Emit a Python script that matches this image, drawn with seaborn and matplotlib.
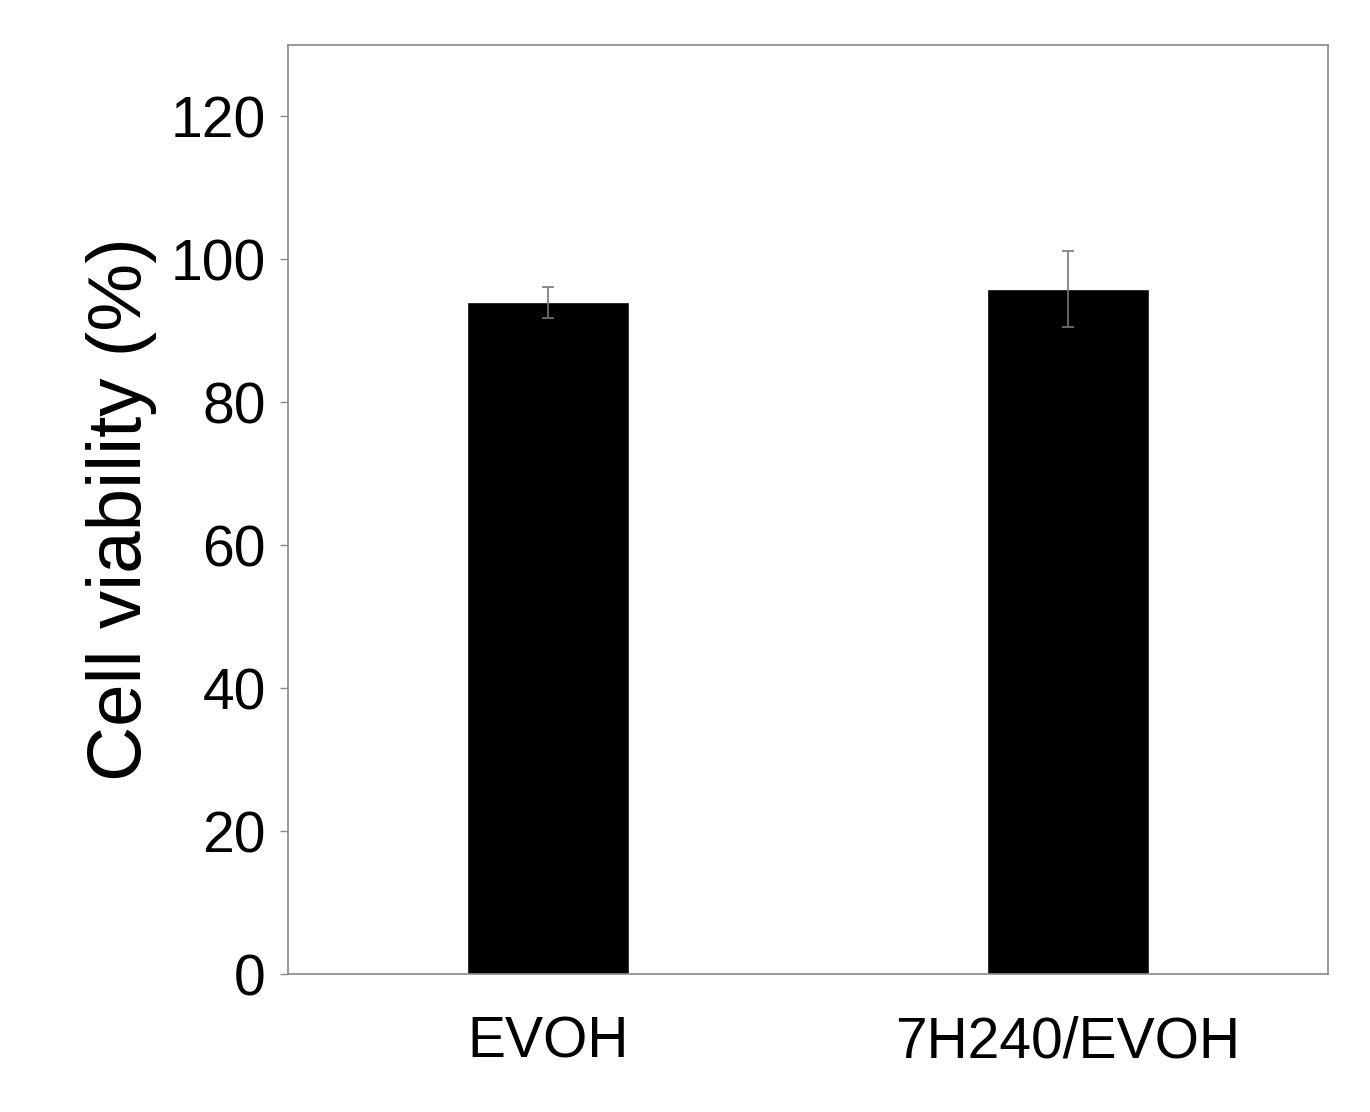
import matplotlib
matplotlib.use('Agg')
import matplotlib.pyplot as plt
import seaborn as sns
import pandas as pd

categories = ['EVOH', '7H240/EVOH']
viability = [94.0, 95.9]
errors = [2.2, 5.3]

sns.set_style('white')
plt.rcParams['font.family'] = ['Liberation Sans', 'DejaVu Sans']

df = pd.DataFrame({'sample': categories, 'viability': viability})

fig = plt.figure(figsize=(13.7, 11.12), dpi=100)
ax = fig.add_axes([288/1370, 1 - 974/1112, 1040/1370, 929/1112])
sns.barplot(data=df, x='sample', y='viability', color='black', width=0.31,
            saturation=1, ax=ax)
ax.errorbar(range(len(categories)), viability, yerr=errors, fmt='none',
            ecolor='#777777', elinewidth=1.2, capsize=4, capthick=1.2)

ax.set_xlim(-0.5, 1.5)
ax.set_ylim(0, 130)
ax.set_yticks(range(0, 121, 20))
ax.set_xlabel('')
ax.set_ylabel('Cell viability (%)', fontsize=55, labelpad=10, color='black')
ax.tick_params(axis='y', direction='out', length=6, width=1, color='#888888',
               labelsize=41, pad=10, left=True, labelcolor='black')
ax.tick_params(axis='x', length=0, labelsize=41, pad=30, labelcolor='black')
for s in ax.spines.values():
    s.set_color('#888888')
    s.set_linewidth(1.2)

fig.savefig('out.png', dpi=100)
